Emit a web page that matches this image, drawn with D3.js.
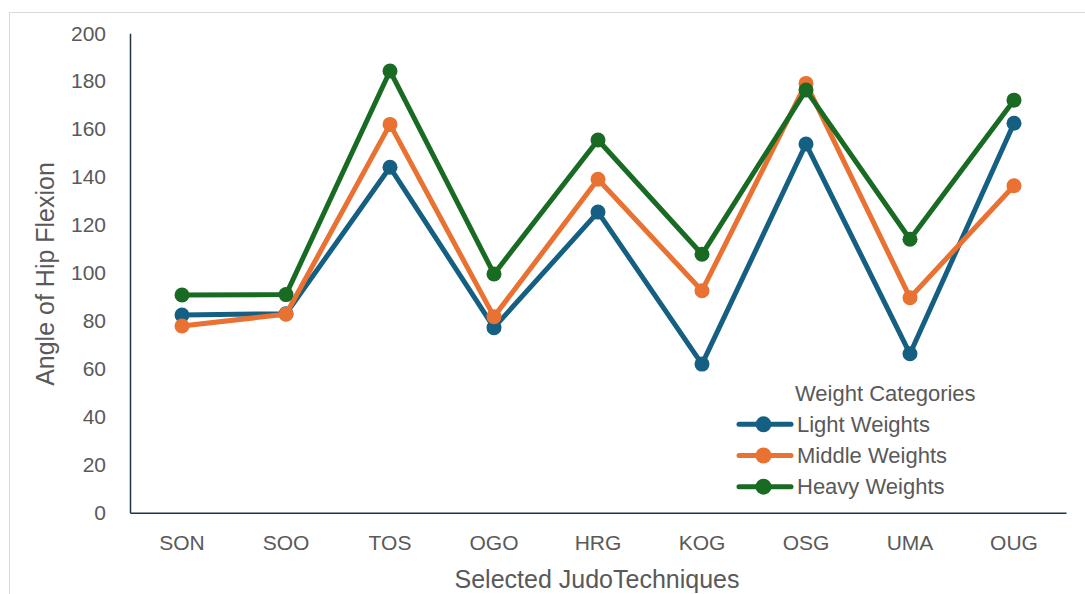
<!DOCTYPE html>
<html>
<head>
<meta charset="utf-8">
<script src="https://cdn.jsdelivr.net/npm/d3@7"></script>
<style>
  html, body { margin: 0; padding: 0; background: #fff; }
  svg { display: block; }
  text { font-family: "Liberation Sans", Arial, sans-serif; fill: #595959; }
</style>
</head>
<body>
<svg id="chart" width="1085" height="594"></svg>
<script>
const categories = ["SON", "SOO", "TOS", "OGO", "HRG", "KOG", "OSG", "UMA", "OUG"];
const lightWeights  = [82.5, 83.0, 144.1, 77.2, 125.4, 62.0, 153.8, 66.3, 162.5];
const middleWeights = [77.9, 82.8, 162.0, 81.8, 139.1, 92.6, 179.1, 89.7, 136.4];
const heavyWeights  = [90.8, 91.0, 184.3, 99.6, 155.5, 107.8, 176.3, 114.1, 172.1];
const seriesNames = ["Light Weights", "Middle Weights", "Heavy Weights"];
const seriesColors = ["#156082", "#E97132", "#196B24"];
const yTicks = [0, 20, 40, 60, 80, 100, 120, 140, 160, 180, 200];
const legendTitle = "Weight Categories";
const xTitle = "Selected JudoTechniques";
const yTitle = "Angle of Hip Flexion";

const series = [lightWeights, middleWeights, heavyWeights].map((vals, i) => ({
  name: seriesNames[i], color: seriesColors[i],
  values: vals.map((v, j) => ({ cat: categories[j], v }))
}));

const svg = d3.select("#chart");

// outer chart border
svg.append("rect").attr("x", 9.5).attr("y", 12.5).attr("width", 1100).attr("height", 620)
  .attr("fill", "none").attr("stroke", "#d9d9d9").attr("stroke-width", 1);

const plotLeft = 130, plotRight = 1066, plotTop = 33.3, plotBottom = 512.7;
const x = d3.scaleBand().domain(categories).range([plotLeft, plotRight]);
const y = d3.scaleLinear().domain([0, 200]).range([plotBottom, plotTop]);

// y axis
const yAxis = svg.append("g").attr("transform", `translate(${plotLeft},0)`)
  .call(d3.axisLeft(y).tickValues(yTicks).tickSize(0).tickPadding(24));
yAxis.select(".domain").attr("stroke", "#1c3444").attr("stroke-width", 1.5);
yAxis.selectAll("text").style("font-size", "21px").attr("fill", "#595959");

// x axis
const xAxis = svg.append("g").attr("transform", `translate(0,${plotBottom})`)
  .call(d3.axisBottom(x).tickSize(0).tickPadding(22));
xAxis.select(".domain").attr("stroke", "#1c3444").attr("stroke-width", 1.5);
xAxis.selectAll("text").style("font-size", "21px").attr("fill", "#595959");

// titles
svg.append("text").attr("x", 597).attr("y", 588).attr("text-anchor", "middle")
  .style("font-size", "25px").text(xTitle);
svg.append("text").attr("transform", "translate(54,274) rotate(-90)").attr("text-anchor", "middle")
  .style("font-size", "25px").text(yTitle);

// lines
const line = d3.line().x(d => x(d.cat) + x.bandwidth() / 2).y(d => y(d.v));
const g = svg.append("g");
series.forEach(s => {
  g.append("path").datum(s.values).attr("d", line).attr("fill", "none")
    .attr("stroke", s.color).attr("stroke-width", 5).attr("stroke-linejoin", "round");
  g.selectAll(null).data(s.values).enter().append("circle")
    .attr("cx", d => x(d.cat) + x.bandwidth() / 2).attr("cy", d => y(d.v))
    .attr("r", 7.5).attr("fill", s.color);
});

// legend
const lg = svg.append("g");
lg.append("text").attr("x", 795).attr("y", 400.5).style("font-size", "22px").text(legendTitle);
series.forEach((s, i) => {
  const cy = 424.3 + i * 31.2;
  lg.append("line").attr("x1", 739).attr("x2", 791).attr("y1", cy).attr("y2", cy)
    .attr("stroke", s.color).attr("stroke-width", 5).attr("stroke-linecap", "round");
  lg.append("circle").attr("cx", 763.5).attr("cy", cy).attr("r", 8).attr("fill", s.color);
  lg.append("text").attr("x", 797).attr("y", cy + 7.5).style("font-size", "22px").text(s.name);
});
</script>
</body>
</html>
